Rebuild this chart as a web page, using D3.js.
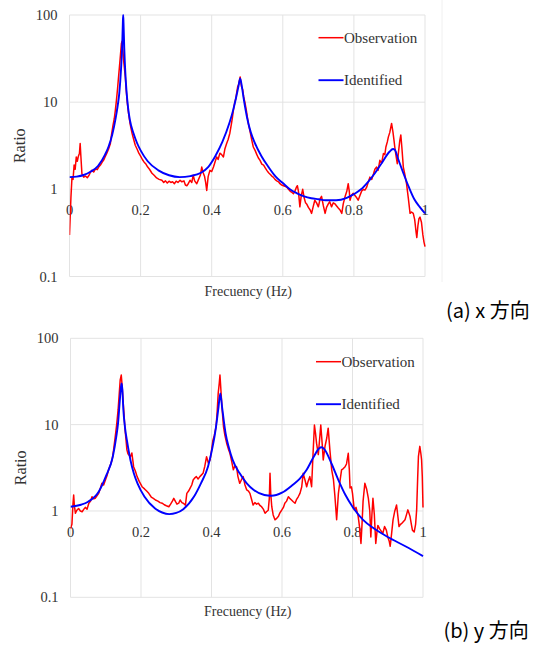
<!DOCTYPE html>
<html><head><meta charset="utf-8">
<script src="https://cdn.jsdelivr.net/npm/d3@7"></script>
<style>body{margin:0;background:#fff}svg{display:block}</style>
</head><body>
<svg id="c" width="542" height="646"></svg>
<script>
const xTicks = [0, 0.2, 0.4, 0.6, 0.8, 1];
const xTickLabels = ["0", "0.2", "0.4", "0.6", "0.8", "1"];
const yTicks = [0.1, 1, 10, 100];
const yTickLabels = ["0.1", "1", "10", "100"];
const seriesNames = ["Observation", "Identified"];
const captions = ["(a) x 方向", "(b) y 方向"];

// (a) x direction: observation [frequency Hz, ratio]
const obsX = [[0,0.30],[0.004,0.80],[0.007,1.38],[0.010,1.30],[0.013,1.9],[0.016,1.7],[0.019,2.35],[0.022,2.1],[0.025,2.4],[0.028,2.6],[0.030,3.35],[0.032,2.4],[0.035,1.5],[0.040,1.38],[0.045,1.42],[0.050,1.36],[0.055,1.45],[0.060,1.60],[0.063,1.65],[0.068,1.58],[0.073,1.72],[0.078,1.68],[0.082,1.8],[0.087,1.9],[0.092,2.05],[0.097,2.2],[0.100,2.35],[0.105,2.6],[0.110,2.9],[0.115,3.35],[0.118,4.2],[0.122,5.3],[0.126,6.5],[0.129,8.1],[0.132,10.5],[0.135,14],[0.138,19.5],[0.142,30],[0.146,47],[0.148,50],[0.150,40],[0.153,28],[0.157,19.5],[0.160,13],[0.163,9.5],[0.166,7.5],[0.170,5.8],[0.173,5.0],[0.176,4.4],[0.180,3.8],[0.185,3.2],[0.190,2.9],[0.195,2.6],[0.200,2.4],[0.205,2.2],[0.210,2.05],[0.215,1.95],[0.220,1.8],[0.225,1.7],[0.232,1.53],[0.238,1.45],[0.245,1.35],[0.252,1.30],[0.260,1.27],[0.265,1.20],[0.270,1.25],[0.275,1.18],[0.280,1.24],[0.285,1.20],[0.290,1.22],[0.295,1.16],[0.300,1.24],[0.305,1.20],[0.311,1.27],[0.316,1.22],[0.322,1.25],[0.326,1.12],[0.330,1.10],[0.334,1.16],[0.339,1.27],[0.344,1.20],[0.348,1.45],[0.352,1.25],[0.358,1.16],[0.363,1.30],[0.368,1.45],[0.372,1.80],[0.376,1.55],[0.380,1.40],[0.383,1.20],[0.386,0.97],[0.390,1.40],[0.395,1.65],[0.400,1.60],[0.405,1.80],[0.410,2.1],[0.414,2.35],[0.418,2.2],[0.423,2.6],[0.428,2.5],[0.433,2.35],[0.437,2.9],[0.442,3.35],[0.446,3.7],[0.451,4.4],[0.455,5.5],[0.458,6.5],[0.461,8.1],[0.465,10],[0.468,11],[0.470,12.6],[0.473,15],[0.476,16],[0.480,19.5],[0.482,17],[0.484,15],[0.487,14],[0.490,11.5],[0.494,9.7],[0.498,7.8],[0.503,5.7],[0.508,4.6],[0.512,3.8],[0.517,3.06],[0.522,2.8],[0.527,2.5],[0.531,2.3],[0.536,2.15],[0.541,1.95],[0.546,1.90],[0.551,1.75],[0.555,1.65],[0.560,1.55],[0.565,1.48],[0.569,1.42],[0.573,1.38],[0.578,1.30],[0.583,1.25],[0.588,1.22],[0.592,1.16],[0.597,1.12],[0.602,1.10],[0.606,1.08],[0.611,1.06],[0.616,1.0],[0.621,0.95],[0.626,0.92],[0.630,0.89],[0.634,0.95],[0.638,1.05],[0.641,1.10],[0.644,0.95],[0.648,0.63],[0.652,0.85],[0.656,1.0],[0.660,0.80],[0.664,0.70],[0.667,0.68],[0.672,0.62],[0.677,0.58],[0.681,0.53],[0.685,0.62],[0.690,0.75],[0.695,0.70],[0.700,0.63],[0.705,0.78],[0.709,0.83],[0.714,0.65],[0.719,0.53],[0.723,0.62],[0.728,0.68],[0.732,0.72],[0.737,0.63],[0.742,0.70],[0.747,0.68],[0.752,0.64],[0.756,0.61],[0.761,0.58],[0.766,0.53],[0.770,0.68],[0.775,0.82],[0.780,0.95],[0.784,1.16],[0.787,0.95],[0.789,0.75],[0.793,0.85],[0.798,0.90],[0.803,0.85],[0.808,0.80],[0.812,0.75],[0.817,0.85],[0.822,0.96],[0.827,1.0],[0.831,0.98],[0.836,1.06],[0.840,1.20],[0.845,1.38],[0.850,1.30],[0.855,1.50],[0.859,1.70],[0.864,1.80],[0.868,1.65],[0.873,2.15],[0.878,2.0],[0.883,2.57],[0.887,2.5],[0.890,3.06],[0.894,3.5],[0.897,4.0],[0.901,4.5],[0.906,5.7],[0.910,4.5],[0.913,3.6],[0.915,3.06],[0.918,2.5],[0.922,1.97],[0.926,2.8],[0.929,3.6],[0.932,4.2],[0.935,3.0],[0.939,1.8],[0.943,1.5],[0.948,1.16],[0.953,0.80],[0.958,0.53],[0.962,0.55],[0.967,0.53],[0.971,0.45],[0.975,0.32],[0.977,0.28],[0.980,0.38],[0.983,0.46],[0.986,0.48],[0.990,0.42],[0.994,0.30],[0.997,0.25],[1.000,0.22]];

// (a) x direction: identified model
const idX = [[0,1.38],[0.02,1.40],[0.04,1.46],[0.06,1.6],[0.08,1.85],[0.10,2.5],[0.11,3.1],[0.12,4.2],[0.13,6.6],[0.135,8.8],[0.14,12.6],[0.145,24],[0.148,42],[0.150,80],[0.151,100],[0.152,80],[0.154,42],[0.157,22],[0.160,14],[0.165,8.5],[0.17,6.2],[0.18,4.4],[0.19,3.4],[0.20,2.8],[0.22,2.1],[0.25,1.65],[0.28,1.45],[0.31,1.38],[0.34,1.42],[0.37,1.55],[0.39,1.8],[0.41,2.4],[0.43,3.5],[0.45,5.8],[0.46,8.0],[0.47,12],[0.475,15],[0.480,18.7],[0.485,15],[0.49,11],[0.50,6.5],[0.51,4.5],[0.52,3.5],[0.54,2.4],[0.56,1.8],[0.58,1.4],[0.60,1.18],[0.62,1.0],[0.64,0.9],[0.66,0.83],[0.68,0.79],[0.70,0.77],[0.72,0.75],[0.75,0.75],[0.78,0.8],[0.80,0.88],[0.82,1.0],[0.84,1.22],[0.86,1.55],[0.88,2.05],[0.90,2.7],[0.91,2.9],[0.915,2.85],[0.925,2.2],[0.94,1.5],[0.955,1.05],[0.97,0.77],[0.985,0.63],[1.0,0.53]];

// (b) y direction: observation
const obsY = [[0,0.62],[0.004,0.70],[0.007,1.20],[0.009,1.53],[0.011,1.15],[0.014,0.94],[0.018,1.02],[0.023,1.07],[0.028,1.00],[0.033,0.98],[0.038,1.05],[0.042,1.10],[0.047,1.05],[0.052,1.23],[0.057,1.30],[0.061,1.46],[0.066,1.38],[0.070,1.40],[0.075,1.50],[0.080,1.60],[0.085,1.85],[0.089,2.09],[0.094,2.0],[0.099,2.28],[0.104,2.6],[0.108,2.98],[0.113,3.4],[0.118,3.9],[0.122,5.0],[0.127,7.3],[0.131,10],[0.135,14.8],[0.138,22],[0.141,33],[0.144,37.5],[0.146,30],[0.149,19.3],[0.152,13],[0.154,9.5],[0.157,7],[0.160,5.1],[0.163,4.6],[0.167,4.4],[0.170,4.25],[0.174,4.7],[0.177,3.8],[0.179,3.26],[0.184,2.9],[0.189,2.5],[0.195,2.2],[0.203,1.91],[0.210,1.8],[0.216,1.7],[0.222,1.6],[0.229,1.45],[0.235,1.40],[0.241,1.34],[0.248,1.30],[0.254,1.25],[0.260,1.23],[0.266,1.18],[0.272,1.15],[0.279,1.12],[0.284,1.20],[0.289,1.30],[0.293,1.40],[0.298,1.28],[0.302,1.20],[0.307,1.23],[0.311,1.34],[0.316,1.25],[0.320,1.23],[0.326,1.17],[0.330,1.60],[0.335,1.70],[0.339,1.83],[0.344,2.0],[0.348,2.28],[0.352,2.4],[0.357,2.5],[0.362,2.35],[0.367,2.5],[0.371,2.6],[0.376,2.73],[0.381,3.3],[0.386,4.25],[0.391,3.6],[0.396,3.9],[0.400,5.0],[0.404,6.6],[0.408,7.5],[0.413,9.5],[0.416,14],[0.419,23],[0.422,30],[0.424,37.5],[0.426,28],[0.429,17.7],[0.432,12],[0.434,9.5],[0.438,7.5],[0.443,6.1],[0.448,5.2],[0.452,4.7],[0.457,3.8],[0.462,3.0],[0.466,3.3],[0.471,3.26],[0.475,2.5],[0.480,2.09],[0.485,2.3],[0.490,2.5],[0.495,2.0],[0.500,1.75],[0.505,1.70],[0.509,1.60],[0.514,1.35],[0.518,1.17],[0.523,1.25],[0.528,1.20],[0.533,1.23],[0.538,1.15],[0.542,1.12],[0.547,1.05],[0.552,0.94],[0.556,0.98],[0.561,1.02],[0.564,1.40],[0.566,2.73],[0.568,1.6],[0.571,1.12],[0.575,0.90],[0.580,0.79],[0.585,0.82],[0.590,0.87],[0.594,0.95],[0.599,1.02],[0.604,1.10],[0.608,1.23],[0.613,1.30],[0.618,1.46],[0.622,1.40],[0.627,1.34],[0.632,1.28],[0.637,1.23],[0.641,1.35],[0.646,1.46],[0.651,1.60],[0.656,1.91],[0.660,2.73],[0.665,2.3],[0.670,1.91],[0.674,2.2],[0.679,2.5],[0.684,1.91],[0.688,4.5],[0.692,9.9],[0.695,8],[0.698,6.1],[0.703,4.5],[0.707,7],[0.710,9.9],[0.714,6],[0.717,3.9],[0.722,5.6],[0.727,7],[0.731,9.1],[0.736,5],[0.741,3.0],[0.746,2.3],[0.750,1.5],[0.755,0.79],[0.760,1.6],[0.765,2.3],[0.769,3.0],[0.774,3.1],[0.779,3.26],[0.783,3.5],[0.788,4.66],[0.791,3.0],[0.793,1.85],[0.797,1.9],[0.800,1.6],[0.805,1.03],[0.810,1.1],[0.816,0.87],[0.820,0.65],[0.824,0.42],[0.827,0.7],[0.830,1.3],[0.835,2.09],[0.840,1.8],[0.845,1.4],[0.849,1.0],[0.852,0.50],[0.855,0.9],[0.858,1.4],[0.862,0.9],[0.866,0.42],[0.869,0.55],[0.872,0.68],[0.877,0.62],[0.882,0.58],[0.886,0.55],[0.891,0.66],[0.896,0.60],[0.900,0.50],[0.904,0.45],[0.907,0.39],[0.911,0.55],[0.915,0.79],[0.920,1.0],[0.925,1.17],[0.929,0.85],[0.932,0.66],[0.936,0.70],[0.940,0.72],[0.944,0.75],[0.949,0.79],[0.953,0.90],[0.957,1.03],[0.960,0.95],[0.963,0.87],[0.967,0.70],[0.970,0.60],[0.975,0.57],[0.979,0.7],[0.982,1.03],[0.985,2.5],[0.987,4.25],[0.991,5.6],[0.994,4.6],[0.996,3.9],[0.998,2.5],[1.000,1.1]];

// (b) y direction: identified model
const idY = [[0,1.12],[0.03,1.18],[0.05,1.28],[0.08,1.67],[0.10,2.5],[0.12,4.25],[0.13,7.3],[0.135,10.5],[0.14,19.3],[0.143,27],[0.145,30],[0.147,26],[0.15,14.8],[0.155,9],[0.16,6.6],[0.17,3.9],[0.18,2.7],[0.19,2.09],[0.21,1.46],[0.24,1.07],[0.26,0.96],[0.28,0.92],[0.30,0.95],[0.32,1.05],[0.35,1.46],[0.37,2.09],[0.39,3.26],[0.40,4.8],[0.41,7.9],[0.415,11],[0.42,16.1],[0.425,23],[0.43,16],[0.435,11],[0.44,7.9],[0.45,5.3],[0.46,3.9],[0.48,2.73],[0.50,2.09],[0.52,1.75],[0.55,1.53],[0.57,1.5],[0.60,1.63],[0.63,2.0],[0.65,2.35],[0.67,3.0],[0.69,4.25],[0.705,5.3],[0.712,5.46],[0.72,5.2],[0.74,3.57],[0.76,2.28],[0.78,1.53],[0.80,1.12],[0.83,0.79],[0.86,0.63],[0.90,0.5],[0.95,0.39],[1.0,0.3]];

const svg = d3.select("#c");
const serif = "'Liberation Serif','Times New Roman',serif";
const RED = "#ff0000", BLUE = "#0000ff", GRID = "#e3e3e3";

function drawChart(o) {
  const x = d3.scaleLinear().domain([0, 1]).range([o.left, o.right]);
  const y = d3.scaleLog().domain([0.1, 100]).range([o.bottom, o.top]);
  const g = svg.append("g");

  // gridlines
  g.selectAll(".gy").data(yTicks).join("line")
    .attr("x1", o.left).attr("x2", o.right)
    .attr("y1", d => y(d)).attr("y2", d => y(d))
    .attr("stroke", GRID).attr("stroke-width", 1);
  g.selectAll(".gx").data(xTicks).join("line")
    .attr("y1", o.top).attr("y2", o.bottom)
    .attr("x1", d => x(d)).attr("x2", d => x(d))
    .attr("stroke", GRID).attr("stroke-width", 1);

  // y tick labels
  g.selectAll(".ty").data(yTicks).join("text")
    .attr("x", o.left - 12).attr("y", d => y(d) + 5)
    .attr("text-anchor", "end")
    .attr("font-family", serif).attr("font-size", 14.5).attr("fill", "#333")
    .text((d, i) => yTickLabels[i]);

  // x tick labels (axis crosses at ratio 1)
  g.selectAll(".tx").data(xTicks).join("text")
    .attr("x", d => x(d)).attr("y", y(1) + 26)
    .attr("text-anchor", "middle")
    .attr("font-family", serif).attr("font-size", 14.5).attr("fill", "#333")
    .text((d, i) => xTickLabels[i]);

  // axis titles
  g.append("text").attr("x", (o.left + o.right) / 2 + 1).attr("y", o.bottom + 19)
    .attr("text-anchor", "middle").attr("font-family", serif).attr("font-size", 14)
    .attr("fill", "#333").text("Frecuency (Hz)");
  g.append("text")
    .attr("transform", `translate(${o.left - 45},${(o.top + o.bottom) / 2}) rotate(-90)`)
    .attr("text-anchor", "middle").attr("font-family", serif).attr("font-size", 16)
    .attr("fill", "#333").text("Ratio");

  // clip
  const cid = "clip" + o.id;
  svg.append("clipPath").attr("id", cid).append("rect")
    .attr("x", o.left).attr("y", o.top - 1)
    .attr("width", o.right - o.left + 1).attr("height", o.bottom - o.top + 1);

  const lineObs = d3.line().x(d => x(d[0])).y(d => y(d[1]));
  const lineId = d3.line().x(d => x(d[0])).y(d => y(d[1])).curve(d3.curveMonotoneX);

  g.append("path").datum(o.obs).attr("d", lineObs)
    .attr("fill", "none").attr("stroke", RED).attr("stroke-width", 1.5)
    .attr("stroke-linejoin", "round").attr("clip-path", `url(#${cid})`);
  g.append("path").datum(o.idn).attr("d", lineId)
    .attr("fill", "none").attr("stroke", BLUE).attr("stroke-width", 1.9)
    .attr("clip-path", `url(#${cid})`);

  // legend
  const cols = [RED, BLUE];
  seriesNames.forEach((n, i) => {
    const ly = o.legY + i * 42.5;
    g.append("line").attr("x1", o.legX).attr("x2", o.legX + 25)
      .attr("y1", ly).attr("y2", ly).attr("stroke", cols[i]).attr("stroke-width", i ? 1.9 : 1.5);
    g.append("text").attr("x", o.legX + 25.5).attr("y", ly + 5)
      .attr("font-family", serif).attr("font-size", 15).attr("fill", "#333").text(n);
  });

  // caption
  g.append("text").attr("x", o.capX).attr("y", o.capY)
    .attr("font-family", "'Noto Sans CJK JP','Noto Sans CJK SC',sans-serif")
    .attr("font-size", 20).attr("fill", "#000").text(o.caption);
}

// faint frame edge of the first chart image
svg.append("line").attr("x1", 442).attr("x2", 442).attr("y1", 0).attr("y2", 282)
  .attr("stroke", "#f0f0f0");

drawChart({id: "a", left: 69.5, right: 425, top: 15, bottom: 276.5,
  obs: obsX, idn: idX, legX: 318.5, legY: 37.7, capX: 446, capY: 318, caption: captions[0]});
drawChart({id: "b", left: 70.5, right: 423, top: 338.3, bottom: 597.3,
  obs: obsY, idn: idY, legX: 316, legY: 361.7, capX: 443.5, capY: 638, caption: captions[1]});
</script>
</body></html>
